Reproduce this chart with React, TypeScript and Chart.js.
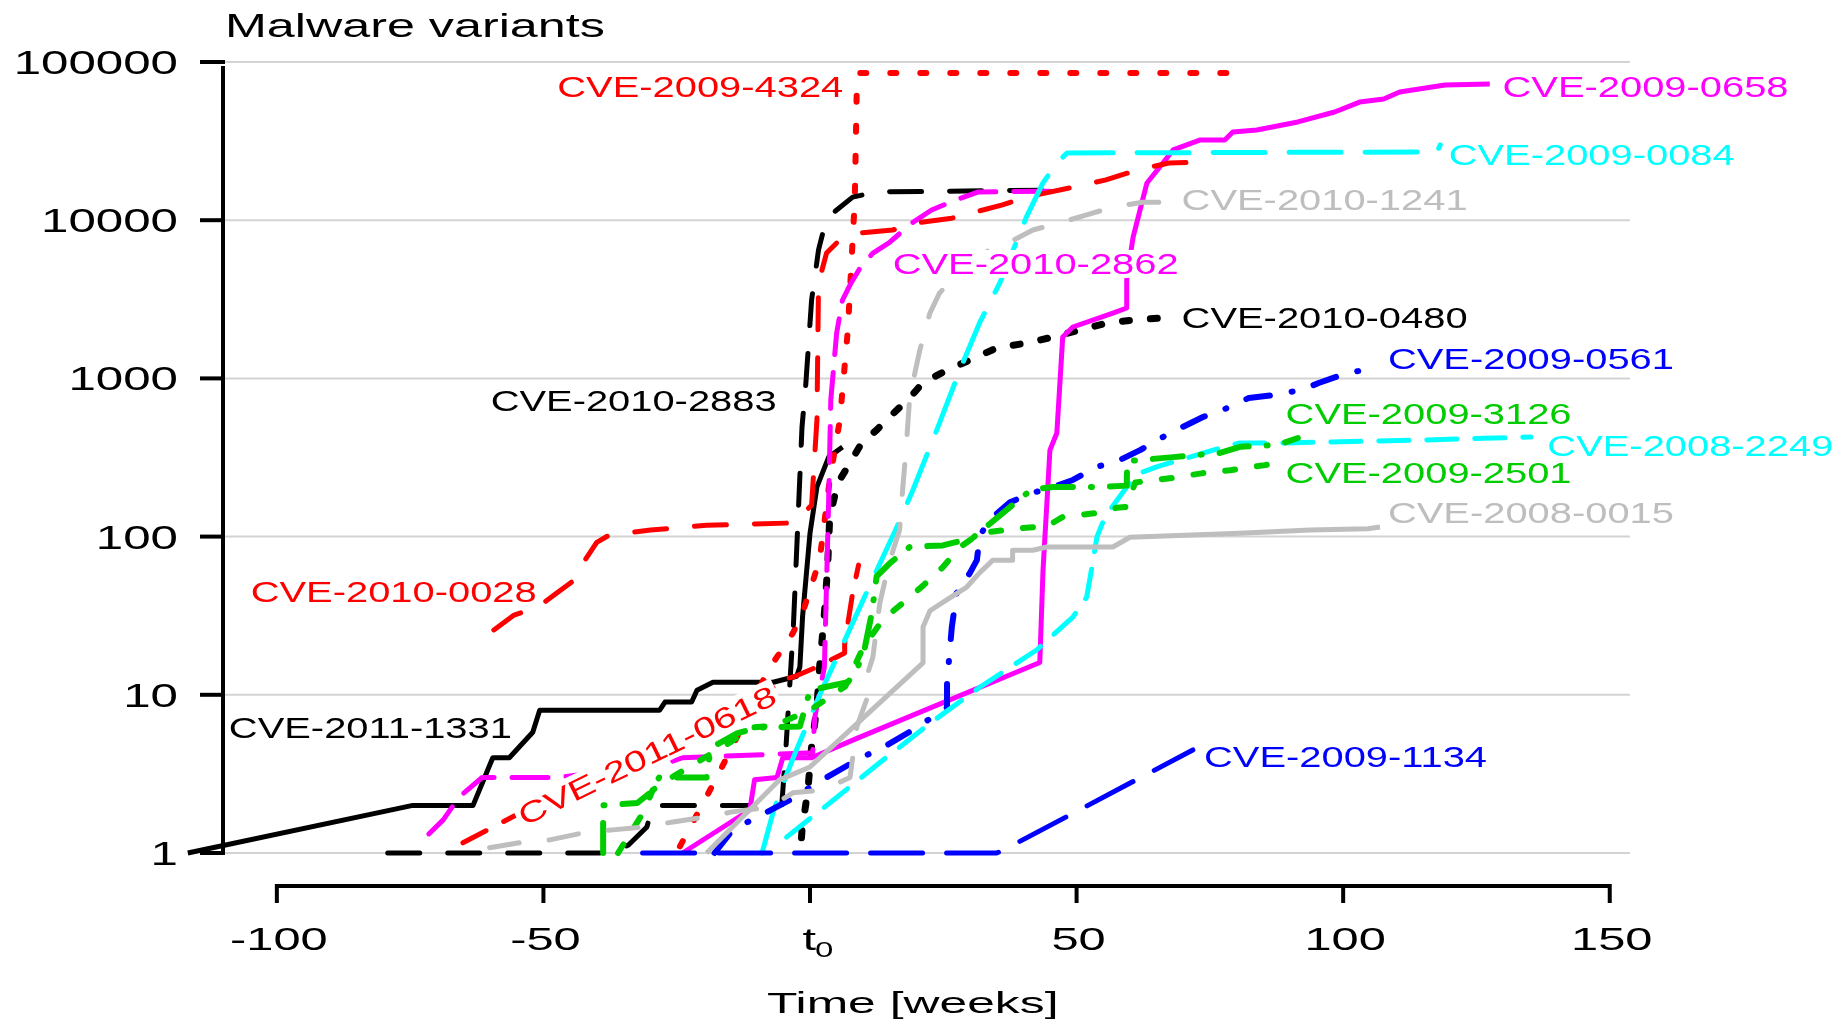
import { useEffect, useRef } from "react";
import { Chart, registerables } from "chart.js";
Chart.register(...registerables);

// ---- axes ----
const xTicks = [-100, -50, 0, 50, 100, 150];
const xTickLabels = ["-100", "-50", "t0", "50", "100", "150"];
const yTicks = [1, 10, 100, 1000, 10000, 100000];
const yTickLabels = ["1", "10", "100", "1000", "10000", "100000"];
const xMin = -110.1;
const xMax = 153.8;

// ---- series (weeks, malware variants) ----
const w1331 = [-116.7, -74.5, -63.2, -59.5, -56.4, -52.0, -50.7, -28.2, -27.2, -22.2, -21.2, -18.2, -6.9, -2.5, -1.9, -1.4, 0, 1.3, 3.5, 6.1];
const v1331 = [1, 2, 2, 4, 4, 5.8, 8, 8, 9, 9, 10.7, 12, 12, 13.1, 15, 31, 105, 206, 318, 368];

const w4324 = [-24.4, -17.5, -13.7, -8.1, -3.2, -1.4, 1.8, 3.7, 5.6, 7.1, 8.4, 8.8, 9.3, 82.0];
const v4324 = [1.1, 3.0, 5.4, 13.9, 24.6, 32.9, 71, 228, 546, 2020, 13400, 77000, 85200, 85200];

const w0658 = [-23.9, -11.3, -10.4, -6.2, -5.1, 0.3, 8.8, 43.1, 43.7, 45.0, 46.3, 47.4, 49.3, 56.8, 59.4, 59.4, 60.6, 63.2, 65.6, 68.1, 73.1, 77.8, 79.3, 83.8, 91.5, 98.4, 103.1, 107.6, 110.6, 119.1, 127.5];
const v0658 = [1, 1.87, 2.9, 3.0, 4.0, 4, 5.3, 16, 61, 352, 452, 1827, 2113, 2590, 2786, 4190, 7830, 17200, 21700, 27800, 32100, 32100, 36100, 37200, 41800, 48300, 55800, 58400, 64600, 71600, 72600];

const w0084 = [-9.0, -6.8, -4.6, -2.3, 2.0, 12.5, 16.3, 19.3, 24.3, 28.1, 31.8, 35.6, 40.6, 43.7, 46.3, 48.2, 117.6, 118.2];
const v0084 = [1, 1.87, 3.0, 4.7, 10.3, 61, 115, 197, 523, 1130, 2240, 4010, 10500, 17200, 23000, 26600, 27000, 29900];

const w1241 = [-60.1, -53.9, -48.8, -42.6, -37.0, -31.4, -25.7, -19.4, -14.5, -7.6, -3.2, 2.4, 7.5, 8.8, 10.6, 10.6, 11.8, 12.5, 13.1, 14.4, 15.0, 16.8, 17.4, 18.1, 18.7, 20.6, 22.5, 24.3, 28.1, 34.3, 37.5, 41.8, 47.4, 51.9, 56.8, 62.4, 67.1];
const v1241 = [1.08, 1.17, 1.21, 1.34, 1.4, 1.46, 1.57, 1.69, 1.82, 1.95, 2.4, 2.5, 3.0, 6.3, 9.3, 13, 17.3, 27, 38, 59, 71, 110, 203, 391, 763, 1510, 2590, 3470, 4640, 6770, 7280, 8670, 9750, 10800, 12100, 13000, 13000];

const w2862 = [-71.5, -68.8, -65.8, -61.5, -47.5, -35.7, -26.9, -23.9, 0.5, 0.9, 2.7, 3.5, 3.9, 5.0, 6.1, 7.7, 9.5, 11.8, 14.8, 19.1, 22.8, 27.3, 31.6, 48.0];
const v2862 = [1.32, 1.62, 2.26, 3.0, 3.0, 3.35, 3.7, 4.0, 4.3, 7.2, 15, 170, 731, 1940, 3130, 4010, 5060, 6200, 7180, 9600, 11600, 13400, 15100, 15300];

const w0480 = [-1.6, -1.5, -0.4, 0.3, 1.3, 1.8, 2.2, 2.8, 3.3, 3.7, 5.2, 7.5, 9.7, 12.5, 14.9, 18.7, 21.1, 25.7, 30.0, 35.0, 40.7, 45.6, 50.6, 55.7, 60.6, 66.2];
const v0480 = [1.25, 1.4, 2.5, 4.7, 8.4, 15, 21, 36, 64, 133, 218, 292, 391, 472, 570, 752, 935, 1130, 1306, 1556, 1675, 1827, 2024, 2240, 2340, 2410];

const w2883 = [-79.2, -38.1, -34.1, -30.6, -29.5, -11.3, -5.3, -4.5, -3.1, -1.5, -0.8, 0.3, 1.6, 3.1, 8.0, 12.5, 45.9];
const v2883 = [1, 1, 1.12, 1.46, 2.0, 2.0, 2.0, 4.7, 28, 493, 908, 3130, 6490, 10300, 14000, 15100, 15500];

const w0561 = [-17.9, -14.5, -3.8, 1.3, 8.8, 14.4, 19.3, 25.7, 25.7, 26.6, 27.5, 30.0, 31.3, 31.8, 33.3, 37.5, 41.8, 45.6, 49.3, 53.8, 58.1, 61.9, 66.2, 69.9, 73.7, 78.8, 82.3, 87.0, 92.2, 95.4, 100.7, 106.1];
const v0561 = [1, 1.4, 2.16, 2.77, 3.87, 4.8, 6.0, 8.3, 11.9, 26.8, 44, 59, 71, 99, 124, 165, 189, 206, 228, 276, 305, 352, 426, 493, 570, 660, 752, 785, 845, 935, 1080, 1164];

const w3126 = [-38.8, -38.8, -32.4, -30.0, -28.3, -19.4, -19.4, -18.2, -16.3, -13.7, -10.0, -1.9, 0, 7.1, 8.8, 10.3, 11.6, 12.5, 15.0, 18.7, 24.9, 30.5, 41.4, 45.6, 54.4, 59.4, 59.5, 68.1, 76.9, 80.8, 87.7, 91.5];
const v3126 = [1, 2, 2.07, 2.4, 3.0, 3.0, 3.5, 4.7, 5.1, 5.7, 6.2, 6.3, 10.7, 12, 14.4, 20, 33, 56, 68, 86, 88, 98, 197, 206, 206, 210, 300, 318, 338, 370, 380, 420];

const w2249 = [-4.4, 3.7, 13.7, 22.5, 31.9, 42.5, 49.3, 51.9, 53.1, 53.8, 55.3, 59.4, 61.9, 65.0, 69.4, 75.6, 80.6, 88.5, 115.3, 135.2];
const v2249 = [1.26, 2.07, 3.87, 6.6, 11.2, 19.2, 31, 41.5, 71, 99, 133, 206, 252, 276, 305, 352, 391, 391, 408, 426];

const w2501 = [-36.0, -31.3, -29.5, -26.0, -22.0, -19.8, -15.0, -11.0, -6.6, 0, 6.6, 10.0, 13.7, 17.4, 21.2, 24.9, 28.0, 31.8, 39.3, 44.4, 47.4, 53.8, 57.5, 59.4, 61.0, 68.0, 73.7, 78.8, 85.3, 87.4];
const v2501 = [1, 1.8, 2.5, 3.0, 3.6, 4, 5, 6.2, 6.4, 8, 11.3, 20, 30, 38, 49, 64, 85, 105, 113, 116, 133, 141, 152, 154, 220, 235, 252, 263, 283, 292];

const w0015 = [-19.4, -5.7, 0, 21.2, 21.2, 22.5, 25.7, 29.4, 31.8, 34.3, 38.0, 38.0, 41.8, 44.4, 56.8, 60.0, 80.6, 93.8, 104.6, 106.9];
const v0015 = [1, 2.9, 3.5, 15.9, 26.8, 34, 40, 48, 59, 71, 71, 82, 82, 86, 86, 99, 105, 110, 112, 115];

const w0028 = [-59.3, -55.5, -51.0, -47.5, -43.7, -42.2, -40.0, -37.7, -29.9, -19.4, -3.1, 0.3, 1.3, 1.6, 3.1, 5.0, 9.5, 15.5, 19.8, 26.6, 36.1, 40.6, 49.5, 55.5, 61.5, 67.3, 75.4];
const v0028 = [25.7, 31.9, 35.9, 44, 54.7, 71, 92, 102, 110, 118, 122, 158, 546, 4010, 6200, 7180, 8300, 8670, 9600, 10300, 12500, 14000, 16200, 18000, 20800, 23000, 23300];

const w0618 = [-65.1, -54.4, -8.9, -5.7, -3.0, 1.3, 6.5, 6.5, 8.0, 9.1];
const v0618 = [1.16, 1.79, 9.3, 12.4, 13, 15, 18.4, 21, 44, 66];

const w1134 = [-31.4, 35.0, 36.2, 71.8];
const v1134 = [1, 1, 1.04, 4.48];

// ---- series labels: name, anchor week, anchor value (left / middle of text) ----
const labelNames = ["CVE-2009-4324", "CVE-2009-0658", "CVE-2009-0084", "CVE-2010-1241", "CVE-2010-2862", "CVE-2010-0480", "CVE-2010-2883", "CVE-2009-0561", "CVE-2009-3126", "CVE-2008-2249", "CVE-2009-2501", "CVE-2008-0015", "CVE-2010-0028", "CVE-2011-1331", "CVE-2009-1134", "CVE-2011-0618"];
const labelWeeks = [-47.4, 129.9, 119.8, 69.7, 15.5, 69.7, -59.9, 108.4, 89.2, 138.3, 89.2, 108.4, -104.9, -109.0, 73.9, -30.6];
const labelValues = [69500, 70000, 26200, 13600, 5290, 2410, 720, 1327, 596, 374, 256, 141, 44.7, 6.17, 4.05, 4.16];

const RED = "#ff0000", MAG = "#ff00ff", CYAN = "#00ffff", GREY = "#bebebe", BLK = "#000000", BLUE = "#0000ff", GREEN = "#00cd00";

const seriesList = [
  { name: "CVE-2010-1241", w: w1241, v: v1241 },
  { name: "CVE-2008-0015", w: w0015, v: v0015 },
  { name: "CVE-2009-1134", w: w1134, v: v1134 },
  { name: "CVE-2009-2501", w: w2501, v: v2501 },
  { name: "CVE-2009-3126", w: w3126, v: v3126 },
  { name: "CVE-2008-2249", w: w2249, v: v2249 },
  { name: "CVE-2009-0561", w: w0561, v: v0561 },
  { name: "CVE-2009-0084", w: w0084, v: v0084 },
  { name: "CVE-2011-0618", w: w0618, v: v0618 },
  { name: "CVE-2010-0028", w: w0028, v: v0028 },
  { name: "CVE-2010-2862", w: w2862, v: v2862 },
  { name: "CVE-2009-0658", w: w0658, v: v0658 },
  { name: "CVE-2010-2883", w: w2883, v: v2883 },
  { name: "CVE-2010-0480", w: w0480, v: v0480 },
  { name: "CVE-2009-4324", w: w4324, v: v4324 },
  { name: "CVE-2011-1331", w: w1331, v: v1331 },
];

const styles: Record<string, { color: string; width: number; dash: number[] }> = {
  "CVE-2011-1331": { color: BLK, width: 5, dash: [] },
  "CVE-2009-4324": { color: RED, width: 6, dash: [6, 24] },
  "CVE-2009-0658": { color: MAG, width: 5, dash: [] },
  "CVE-2009-0084": { color: CYAN, width: 5, dash: [52, 24] },
  "CVE-2010-1241": { color: GREY, width: 5, dash: [30, 30] },
  "CVE-2010-2862": { color: MAG, width: 5, dash: [36, 18] },
  "CVE-2010-0480": { color: BLK, width: 7, dash: [7, 21] },
  "CVE-2010-2883": { color: BLK, width: 5, dash: [32, 28] },
  "CVE-2009-0561": { color: BLUE, width: 6, dash: [24, 22, 1, 22] },
  "CVE-2009-3126": { color: GREEN, width: 6, dash: [30, 18, 1, 18] },
  "CVE-2008-2249": { color: CYAN, width: 5, dash: [30, 18] },
  "CVE-2009-2501": { color: GREEN, width: 6, dash: [10, 22] },
  "CVE-2008-0015": { color: GREY, width: 5, dash: [] },
  "CVE-2010-0028": { color: RED, width: 5, dash: [32, 28] },
  "CVE-2011-0618": { color: RED, width: 5, dash: [26, 20] },
  "CVE-2009-1134": { color: BLUE, width: 5, dash: [52, 24] },
};

const FONT = '"Liberation Sans", Arial, sans-serif';

function stretchedText(ctx: CanvasRenderingContext2D, s: string, x: number, y: number, size: number, sx: number, align: CanvasTextAlign, color: string) {
  ctx.save();
  ctx.translate(x, y);
  ctx.scale(sx, 1);
  ctx.font = `${size}px ${FONT}`;
  ctx.fillStyle = color;
  ctx.textAlign = align;
  ctx.textBaseline = "alphabetic";
  ctx.fillText(s, 0, 0);
  ctx.restore();
}

const decor = {
  id: "decor",
  beforeDatasetsDraw(chart: any) {
    const { ctx, scales } = chart;
    const x = scales.x, y = scales.y;
    ctx.save();
    ctx.strokeStyle = "#d3d3d3";
    ctx.lineWidth = 2;
    for (const t of yTicks) {
      const py = y.getPixelForValue(t);
      ctx.beginPath();
      ctx.moveTo(x.left, py);
      ctx.lineTo(x.right, py);
      ctx.stroke();
    }
    ctx.restore();
  },
  afterDatasetsDraw(chart: any) {
    const { ctx, scales } = chart;
    const x = scales.x, y = scales.y;
    const left = x.left;
    const bottom = y.getPixelForValue(1);
    ctx.save();
    ctx.strokeStyle = "#000";
    ctx.lineWidth = 4;
    ctx.lineCap = "butt";
    // y axis
    ctx.beginPath();
    ctx.moveTo(left, y.getPixelForValue(100000) + 4);
    ctx.lineTo(left, bottom);
    ctx.stroke();
    yTicks.forEach((t, i) => {
      const py = y.getPixelForValue(t);
      ctx.beginPath();
      ctx.moveTo(left - 23, py);
      ctx.lineTo(left + 2, py);
      ctx.stroke();
      stretchedText(ctx, yTickLabels[i], left - 45, py + 12, 33.5, 1.47, "right", "#000");
    });
    // x axis (detached)
    const ax = bottom + 33;
    ctx.beginPath();
    ctx.moveTo(x.getPixelForValue(xTicks[0]), ax);
    ctx.lineTo(x.getPixelForValue(xTicks[xTicks.length - 1]), ax);
    ctx.stroke();
    xTicks.forEach((t, i) => {
      const px = x.getPixelForValue(t);
      ctx.beginPath();
      ctx.moveTo(px, ax - 2);
      ctx.lineTo(px, ax + 17);
      ctx.stroke();
      const lab = xTickLabels[i];
      if (lab === "t0") {
        stretchedText(ctx, "t", px + 6, ax + 64, 30.5, 1.6, "right", "#000");
        stretchedText(ctx, "0", px + 5, ax + 71, 22, 1.5, "left", "#000");
      } else {
        stretchedText(ctx, lab, px + 2, ax + 64, 30.5, 1.6, "center", "#000");
      }
    });
    // axis titles
    stretchedText(ctx, "Time [weeks]", x.getPixelForValue(0) - 43, ax + 127, 30, 1.66, "left", "#000");
    stretchedText(ctx, "Malware variants", left + 2, y.getPixelForValue(100000) - 25, 33.5, 1.5, "left", "#000");

    // series labels
    const size = 29, sx = 1.375;
    labelNames.forEach((name, i) => {
      const px = x.getPixelForValue(labelWeeks[i]);
      const py = y.getPixelForValue(labelValues[i]);
      const color = styles[name].color;
      ctx.save();
      ctx.font = `${size}px ${FONT}`;
      const wdt = ctx.measureText(name).width * sx;
      if (name === "CVE-2011-0618") {
        ctx.translate(px, py);
        ctx.rotate((-26 * Math.PI) / 180);
        ctx.fillStyle = "#fff";
        ctx.fillRect(-wdt / 2 - 3, -15, wdt + 6, 30);
        ctx.restore();
        ctx.save();
        ctx.translate(px, py);
        ctx.rotate((-26 * Math.PI) / 180);
        stretchedText(ctx, name, 0, 10.5, size, sx, "center", color);
      } else {
        ctx.fillStyle = "#fff";
        ctx.fillRect(px - 3, py - 14, wdt + 6, 28);
        stretchedText(ctx, name, px, py + 10.5, size, sx, "left", color);
      }
      ctx.restore();
    });
    ctx.restore();
  },
};

export default function App() {
  const ref = useRef<HTMLCanvasElement | null>(null);
  useEffect(() => {
    document.body.style.margin = "0";
    const canvas = ref.current;
    if (!canvas) return;
    const datasets = seriesList.map((s) => {
      const st = styles[s.name];
      return {
        label: s.name,
        data: s.w.map((wk, i) => ({ x: wk, y: s.v[i] })),
        showLine: true,
        borderColor: st.color,
        backgroundColor: st.color,
        borderWidth: st.width,
        borderDash: st.dash,
        borderCapStyle: st.dash.length ? "round" : "butt",
        borderJoinStyle: "round",
        pointRadius: 0,
        pointHoverRadius: 0,
        fill: false,
        tension: 0,
        clip: false,
      };
    });
    const chart = new Chart(canvas, {
      type: "scatter",
      data: { datasets } as any,
      options: {
        animation: false,
        responsive: false,
        devicePixelRatio: 1,
        layout: { padding: { left: 223, right: 211, top: 62, bottom: 170 } },
        scales: {
          x: { type: "linear", min: xMin, max: xMax, display: false },
          y: { type: "logarithmic", min: 1, max: 100000, display: false },
        },
        plugins: { legend: { display: false }, tooltip: { enabled: false } },
      },
      plugins: [decor],
    } as any);
    return () => chart.destroy();
  }, []);
  return (
    <div style={{ position: "absolute", left: 0, top: 0, width: 1841, height: 1023, background: "#fff" }}>
      <canvas ref={ref} width={1841} height={1023} style={{ display: "block" }} />
    </div>
  );
}
